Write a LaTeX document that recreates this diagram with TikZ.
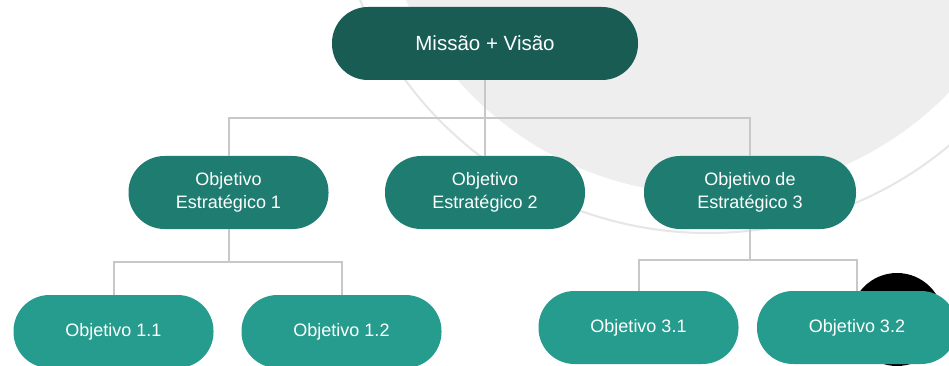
\documentclass[tikz,border=0pt]{standalone}
\usepackage{fontspec}
\setmainfont{Liberation Sans}
\definecolor{topc}{RGB}{24,92,84}
\definecolor{midc}{RGB}{30,125,112}
\definecolor{lowc}{RGB}{38,156,142}
\definecolor{linec}{RGB}{200,200,200}
\definecolor{bgc}{RGB}{238,238,238}
\definecolor{ringc}{RGB}{230,230,230}
\begin{document}
\begin{tikzpicture}[x=1pt,y=-1pt,
  pill/.style={rectangle, rounded corners=36pt, minimum height=73pt, text=white,
    align=center, inner sep=0pt, font=\fontsize{18}{22.4}\selectfont},
  toppill/.style={pill, fill=topc, minimum width=306pt, font=\fontsize{20.5}{24}\selectfont},
  midpill/.style={pill, fill=midc, minimum width=200pt},
  lowpill/.style={pill, fill=lowc, minimum width=200pt},
  conn/.style={draw=linec, line width=2pt}]
\useasboundingbox (0,0) rectangle (949,366);
\clip (0,0) rectangle (949,366);
\fill[white] (0,0) rectangle (949,366);
\fill[bgc] (709,-140) circle[radius=334pt];
\draw[ringc, line width=2pt] (708,-143) circle[radius=376pt];
\fill[black] (897,319.5) circle[radius=46.5pt];
% nodes
\node[toppill] (mv) at (485,43.5) {Missão + Visão};
\node[midpill] (e1) at (228.5,192.5) {Objetivo\\Estratégico 1};
\node[midpill] (e2) at (485,192.5) {Objetivo\\Estratégico 2};
\node[midpill, minimum width=212pt] (e3) at (750,192.5) {Objetivo de\\Estratégico 3};
\node[lowpill] (o11) at (113.5,331.5) {Objetivo 1.1};
\node[lowpill] (o12) at (341.5,331.5) {Objetivo 1.2};
\node[lowpill] (o31) at (638.5,327.5) {Objetivo 3.1};
\node[lowpill] (o32) at (857,327.5) {Objetivo 3.2};
% connectors
\draw[conn] (mv.south) -- (e2.north);
\draw[conn] (e1.north) -- ++(0,-38) -| (e3.north);
\draw[conn] (e1.south) -- ++(0,33);
\draw[conn] (o11.north) -- ++(0,-33) -| (o12.north);
\draw[conn] (e3.south) -- ++(0,31);
\draw[conn] (o31.north) -- ++(0,-31) -| (o32.north);
\end{tikzpicture}
\end{document}
